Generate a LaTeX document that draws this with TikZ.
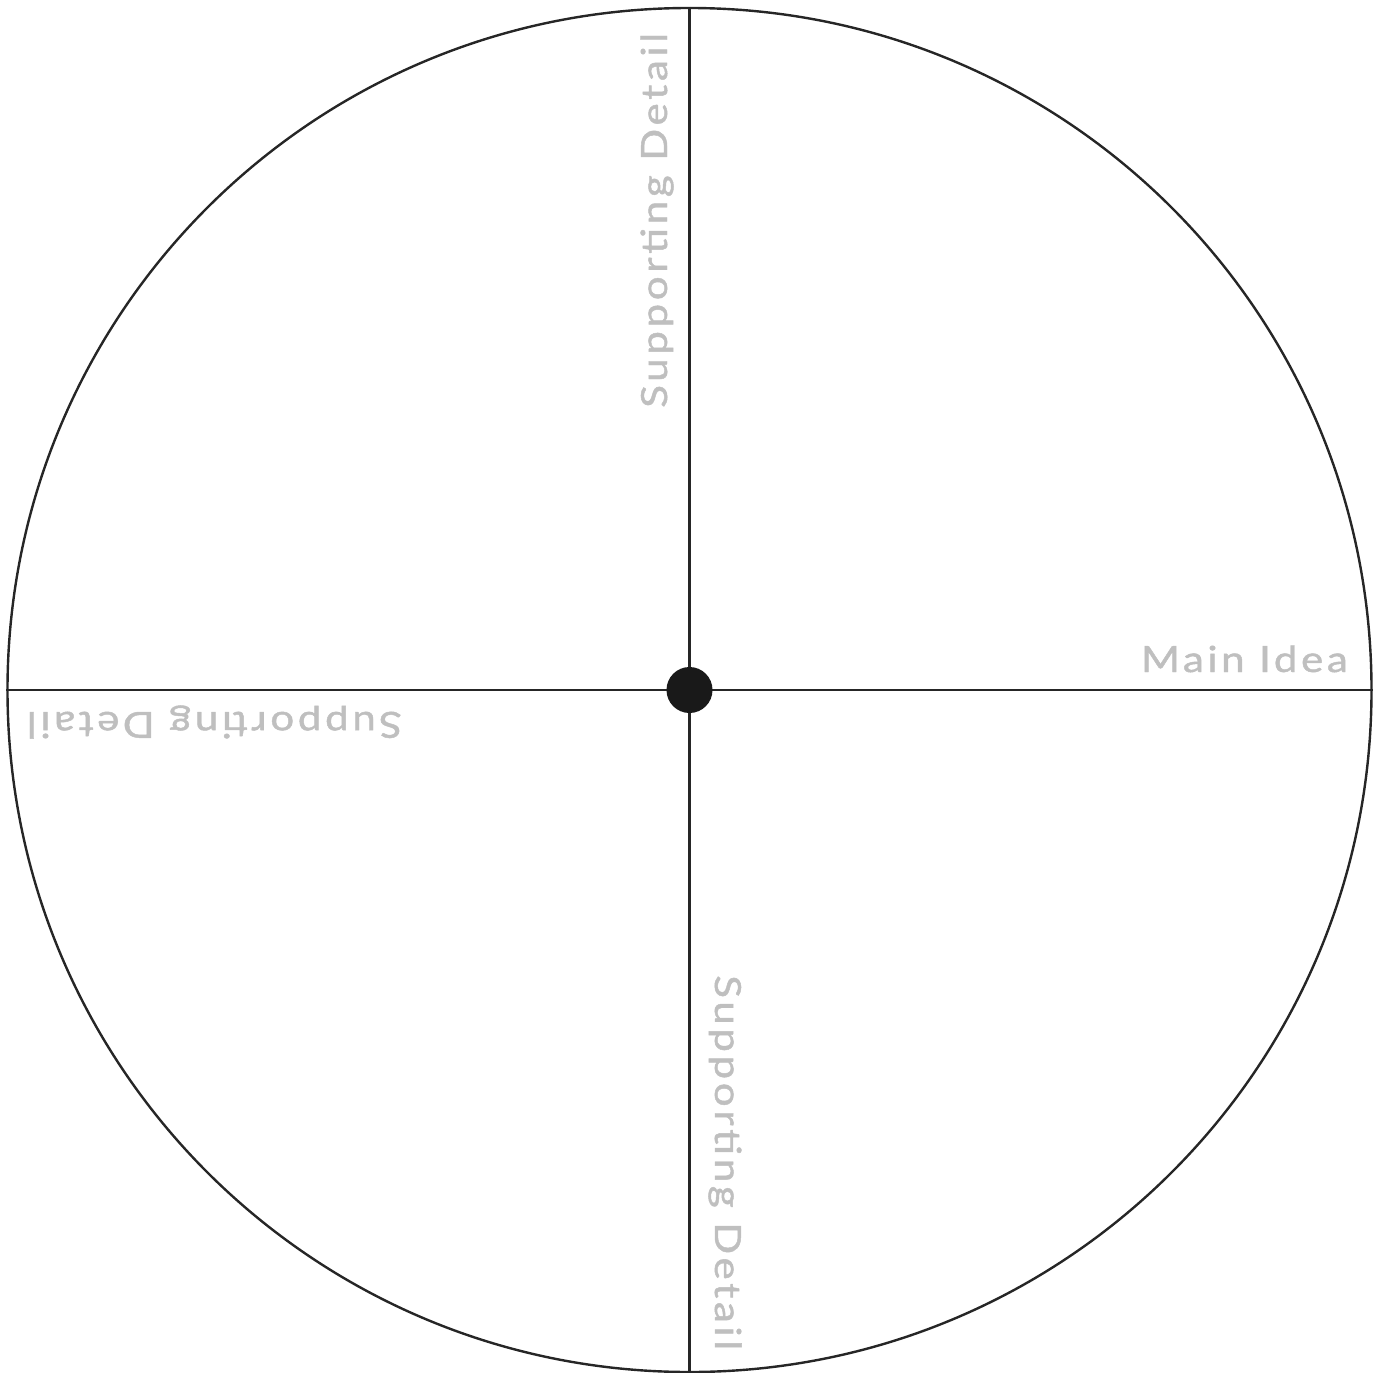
\documentclass[tikz,border=0pt]{standalone}
\usepackage{fontspec}
\newfontfamily\labelfont[LetterSpace=10, FakeStretch=1.17, FakeBold=1.3]{Lato}
\usetikzlibrary{positioning}

\begin{document}
\begin{tikzpicture}[x=1pt, y=-1pt,
    % Styles for the wheel
    wheel/.style={circle, draw=black!85, line width=2.4pt, minimum size=1364pt, inner sep=0pt},
    hub/.style={circle, fill=black!90, minimum size=46pt, inner sep=0pt},
    spoke/.style={draw=black!85, line width=2.2pt},
    tag/.style={text=black!25, font=\labelfont\fontsize{36}{40}\selectfont, inner sep=0pt}]

    \useasboundingbox (0,0) rectangle (1380,1372);

    % Outer circle
    \node [wheel] (wheel) at (689.5,690) {};

    % Spokes
    \path [spoke] (wheel.west) -- (wheel.east);
    \path [spoke] (wheel.north) -- (wheel.south);

    % Center dot
    \node [hub] (hub) at (wheel.center) {};

    % Labels
    \node [tag, anchor=base east] (main) at (1348,672) {Main Idea};
    \node [tag, anchor=base west, rotate=90] (top) at (667,408) {Supporting Detail};
    \node [tag, anchor=base west, rotate=-90] (bottom) at (715,975) {Supporting Detail};
    \node [tag, anchor=base west, rotate=180] (left) at (402,712) {Supporting Detail};

\end{tikzpicture}
\end{document}
